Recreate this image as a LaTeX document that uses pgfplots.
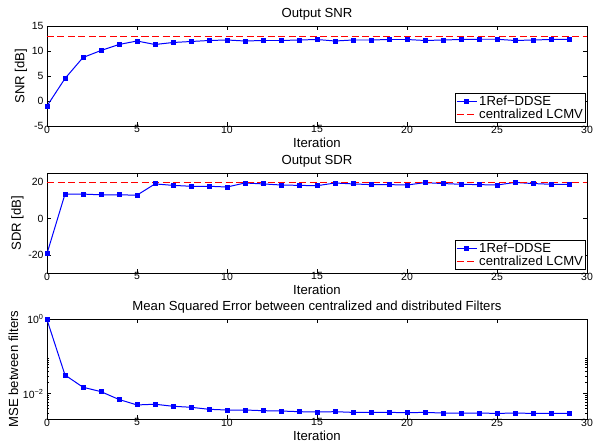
\documentclass[border=0pt]{standalone}
\usepackage{fontspec}
\setmainfont{Liberation Sans}
\usepackage{pgfplots}
\pgfplotsset{compat=1.18}

\pgfplotsset{
  convstyle/.style={
    scale only axis,
    width=540bp,
    height=100bp,
    xmin=0, xmax=30,
    xtick={0,5,...,30},
    tick align=inside,
    major tick length=4bp,
    minor tick length=2bp,
    axis line style={black, line width=0.8pt},
    every tick/.style={black, line width=0.6pt},
    /pgf/number format/assume math mode=true,
    tick label style={font=\fontsize{10.5}{12}\selectfont},
    xticklabel style={yshift=1.5bp, inner ysep=1bp},
    label style={font=\fontsize{13.2}{15}\selectfont},
    title style={font=\fontsize{13.2}{15}\selectfont, yshift=-4bp},
    xlabel={Iteration},
    xlabel style={at={(rel axis cs:0.5,0)}, anchor=north, yshift=-11.5bp, inner ysep=0.5bp},
    ylabel style={yshift=-2bp},
    legend cell align=left,
    legend style={font=\fontsize{13.2}{15}\selectfont, draw=black, line width=0.8pt,
      inner sep=0.5bp, row sep=-2bp,
      at={(rel axis cs:0.998,0.03)}, anchor=south east},
    legend image code/.code={
      \draw[#1] (0cm,0cm) -- (0.7cm,0cm);
      \draw[#1, mark repeat=2, mark phase=2] plot coordinates {(0cm,0cm) (0.35cm,0cm) (0.7cm,0cm)};
    },
  },
  ddse/.style={blue, line width=1pt, mark=square*, mark size=2bp,
    mark options={fill=blue, draw=blue, solid}},
  lcmv/.style={red, line width=1.3pt, dash pattern=on 7bp off 3.5bp},
}

\begin{document}
\begin{tikzpicture}
  \path[use as bounding box] (-47bp,26bp) rectangle (551bp,-418bp);

  % output SNR
  \begin{axis}[convstyle, at={(0,0)}, anchor=north west,
      title={Output SNR}, ylabel={SNR [dB]},
      ymin=-5, ymax=15, ytick={-5,0,5,10,15}]
    \addplot[ddse] coordinates {
      (0,-1.0) (1,4.5) (2,8.7) (3,10.1) (4,11.3) (5,12.0) (6,11.3) (7,11.7)
      (8,11.9) (9,12.1) (10,12.2) (11,12.0) (12,12.1) (13,12.1) (14,12.2)
      (15,12.3) (16,12.0) (17,12.2) (18,12.2) (19,12.3) (20,12.3) (21,12.1)
      (22,12.2) (23,12.3) (24,12.35) (25,12.35) (26,12.1) (27,12.2) (28,12.3)
      (29,12.35)};
    \addlegendentry{1Ref−DDSE}
    \addplot[lcmv] coordinates {(0,12.87) (30,12.87)};
    \addlegendentry{centralized LCMV}
  \end{axis}

  % output SDR
  \begin{axis}[convstyle, at={(0,-147bp)}, anchor=north west,
      title={Output SDR}, ylabel={SDR [dB]},
      ymin=-30, ymax=25, ytick={-20,0,20}]
    \addplot[ddse] coordinates {
      (0,-19.3) (1,13.4) (2,13.4) (3,13.0) (4,13.0) (5,12.8) (6,19.0) (7,18.2)
      (8,17.7) (9,17.7) (10,17.3) (11,19.5) (12,19.0) (13,18.4) (14,18.2)
      (15,18.0) (16,19.5) (17,19.0) (18,18.6) (19,18.6) (20,18.4) (21,19.7)
      (22,19.2) (23,18.8) (24,18.6) (25,18.4) (26,19.8) (27,19.2) (28,18.8)
      (29,18.8)};
    \addlegendentry{1Ref−DDSE}
    \addplot[lcmv] coordinates {(0,19.6) (30,19.6)};
    \addlegendentry{centralized LCMV}
  \end{axis}

  % MSE between filters
  \begin{semilogyaxis}[convstyle, at={(0,-293bp)}, anchor=north west,
      title={Mean Squared Error between centralized and distributed Filters},
      ylabel={MSE between filters},
      ymin=0.0021, ymax=1,
      ytick={0.01,1}, yticklabels={{10\textsuperscript{−2}},{10\textsuperscript{0}}},
      minor ytick={0.003,0.004,0.005,0.006,0.007,0.008,0.009,
                   0.02,0.03,0.04,0.05,0.06,0.07,0.08,0.09}]
    \addplot[ddse] coordinates {
      (0,0.96) (1,0.0316) (2,0.0149) (3,0.01135) (4,0.0070) (5,0.0050)
      (6,0.00522) (7,0.00461) (8,0.00433) (9,0.00382) (10,0.00366) (11,0.00366)
      (12,0.00351) (13,0.00344) (14,0.0033) (15,0.00323) (16,0.0033)
      (17,0.00316) (18,0.00316) (19,0.00316) (20,0.0031) (21,0.00316)
      (22,0.00303) (23,0.00303) (24,0.00303) (25,0.00297) (26,0.00303)
      (27,0.00297) (28,0.00297) (29,0.00297)};
  \end{semilogyaxis}
\end{tikzpicture}
\end{document}
